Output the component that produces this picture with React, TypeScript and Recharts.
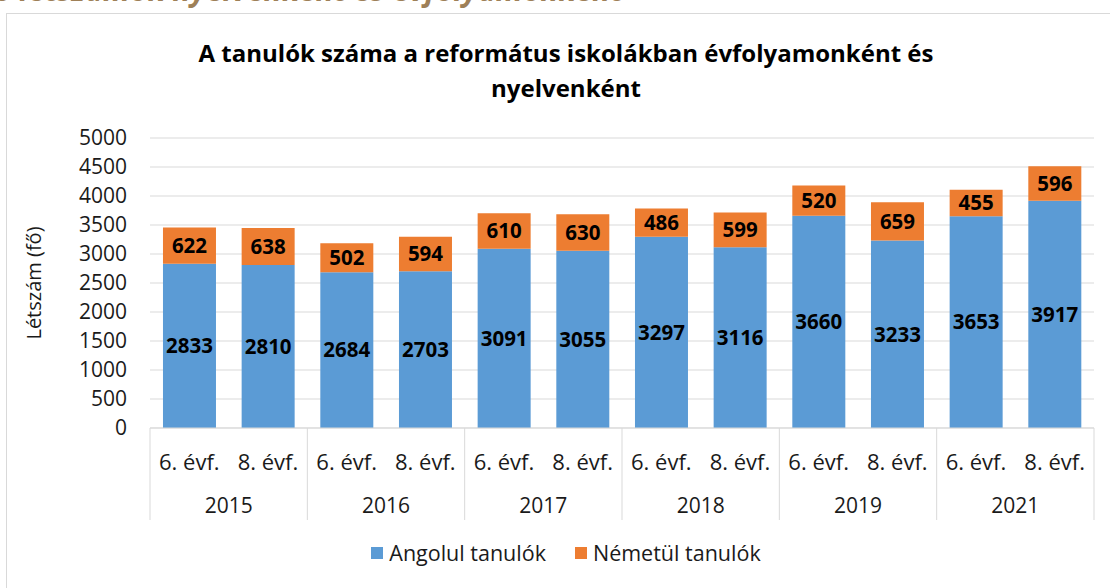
import React from "react";
import {
  BarChart,
  Bar,
  XAxis,
  YAxis,
  CartesianGrid,
  LabelList,
  Label,
} from "recharts";

const years = ["2015", "2015", "2016", "2016", "2017", "2017", "2018", "2018", "2019", "2019", "2021", "2021"];
const grades = ["6. évf.", "8. évf.", "6. évf.", "8. évf.", "6. évf.", "8. évf.", "6. évf.", "8. évf.", "6. évf.", "8. évf.", "6. évf.", "8. évf."];
const english = [2833, 2810, 2684, 2703, 3091, 3055, 3297, 3116, 3660, 3233, 3653, 3917];
const german = [622, 638, 502, 594, 610, 630, 486, 599, 520, 659, 455, 596];
const yTicks = [0, 500, 1000, 1500, 2000, 2500, 3000, 3500, 4000, 4500, 5000];

const series = [
  { key: "english", name: "Angolul tanulók", color: "#5b9bd5" },
  { key: "german", name: "Németül tanulók", color: "#ed7d31" },
];

const data = grades.map((g, i) => ({
  grade: g,
  year: years[i],
  english: english[i],
  german: german[i],
}));

const W = 1110;
const H = 588;
const PLOT_LEFT = 150;
const PLOT_RIGHT = 16;
const PLOT_TOP = 138;
const PLOT_BOTTOM = 428;
const AXIS_H = 92;
const CAT_W = (W - PLOT_LEFT - PLOT_RIGHT) / grades.length;
const FONT = "'Open Sans', sans-serif";

const TwoLevelTick = ({ x, payload, index }: any) => {
  const i = payload?.index ?? index;
  const bottom = PLOT_BOTTOM + AXIS_H;
  return (
    <g>
      <text
        x={x}
        y={PLOT_BOTTOM + 33}
        textAnchor="middle"
        dominantBaseline="central"
        fontSize={22}
        fontFamily={FONT}
        fill="#1a1a1a"
      >
        {payload.value}
      </text>
      {i % 2 === 0 && (
        <>
          <line x1={x - CAT_W / 2} x2={x - CAT_W / 2} y1={PLOT_BOTTOM} y2={bottom} stroke="#d9d9d9" />
          <text
            x={x + CAT_W / 2}
            y={PLOT_BOTTOM + 77}
            textAnchor="middle"
            dominantBaseline="central"
            fontSize={21}
            fontFamily={FONT}
            fill="#1a1a1a"
          >
            {years[i]}
          </text>
        </>
      )}
      {i === grades.length - 1 && (
        <line x1={x + CAT_W / 2} x2={x + CAT_W / 2} y1={PLOT_BOTTOM} y2={bottom} stroke="#d9d9d9" />
      )}
    </g>
  );
};

export default function App() {
  return (
    <div
      style={{
        position: "absolute",
        left: 0,
        top: 0,
        width: W,
        height: H,
        overflow: "hidden",
        background: "#fff",
        fontFamily: FONT,
      }}
    >
      <div
        style={{
          position: "absolute",
          left: -6,
          top: -31,
          fontSize: 30,
          fontWeight: 700,
          fontStyle: "italic",
          color: "#9e8058",
          whiteSpace: "nowrap",
        }}
      >
        ó létszámok nyelvenként és évfolyamonként
      </div>
      <div
        style={{
          position: "absolute",
          left: 6,
          top: 13,
          width: W,
          height: H,
          border: "1px solid #d9d9d9",
        }}
      />
      <div
        style={{
          position: "absolute",
          left: 0,
          top: 35,
          width: W,
          paddingLeft: 22,
          boxSizing: "border-box",
          textAlign: "center",
          fontSize: 24,
          fontWeight: 700,
          lineHeight: "35px",
          color: "#000",
        }}
      >
        A tanulók száma a református iskolákban évfolyamonként és
        <br />
        nyelvenként
      </div>
      <div style={{ position: "absolute", left: 0, top: 0 }}>
        <BarChart
          width={W}
          height={H}
          data={data}
          barCategoryGap="16.5%"
          margin={{ top: PLOT_TOP, right: PLOT_RIGHT, left: 40, bottom: H - PLOT_BOTTOM - AXIS_H }}
        >
          <CartesianGrid vertical={false} stroke="#d9d9d9" />
          <XAxis
            dataKey="grade"
            interval={0}
            height={AXIS_H}
            tickLine={false}
            axisLine={{ stroke: "#d9d9d9" }}
            tick={<TwoLevelTick />}
          />
          <YAxis
            width={110}
            domain={[0, 5000]}
            ticks={yTicks}
            interval={0}
            axisLine={false}
            tickLine={false}
            tickMargin={17}
            tick={{ fontSize: 21, fill: "#1a1a1a", fontFamily: FONT }}
          >
            <Label
              value="Létszám (fő)"
              angle={-90}
              position="insideLeft"
              offset={-6}
              fontSize={20}
              fill="#1a1a1a"
              fontFamily={FONT}
              style={{ textAnchor: "middle" }}
            />
          </YAxis>
          {series.map((s) => (
            <Bar
              key={s.key}
              dataKey={s.key}
              name={s.name}
              stackId="a"
              fill={s.color}
              isAnimationActive={false}
            >
              <LabelList
                dataKey={s.key}
                position="center"
                fill="#000"
                fontSize={20.5}
                fontWeight={700}
                fontFamily={FONT}
              />
            </Bar>
          ))}
        </BarChart>
      </div>
      <div
        style={{
          position: "absolute",
          left: 0,
          top: 538,
          width: W,
          paddingLeft: 22,
          boxSizing: "border-box",
          display: "flex",
          justifyContent: "center",
          gap: 29,
          fontSize: 21.5,
          color: "#1a1a1a",
        }}
      >
        {series.map((s) => (
          <div key={s.key} style={{ display: "flex", alignItems: "center", gap: 6 }}>
            <span style={{ width: 12, height: 12, background: s.color, display: "inline-block" }} />
            <span>{s.name}</span>
          </div>
        ))}
      </div>
    </div>
  );
}
